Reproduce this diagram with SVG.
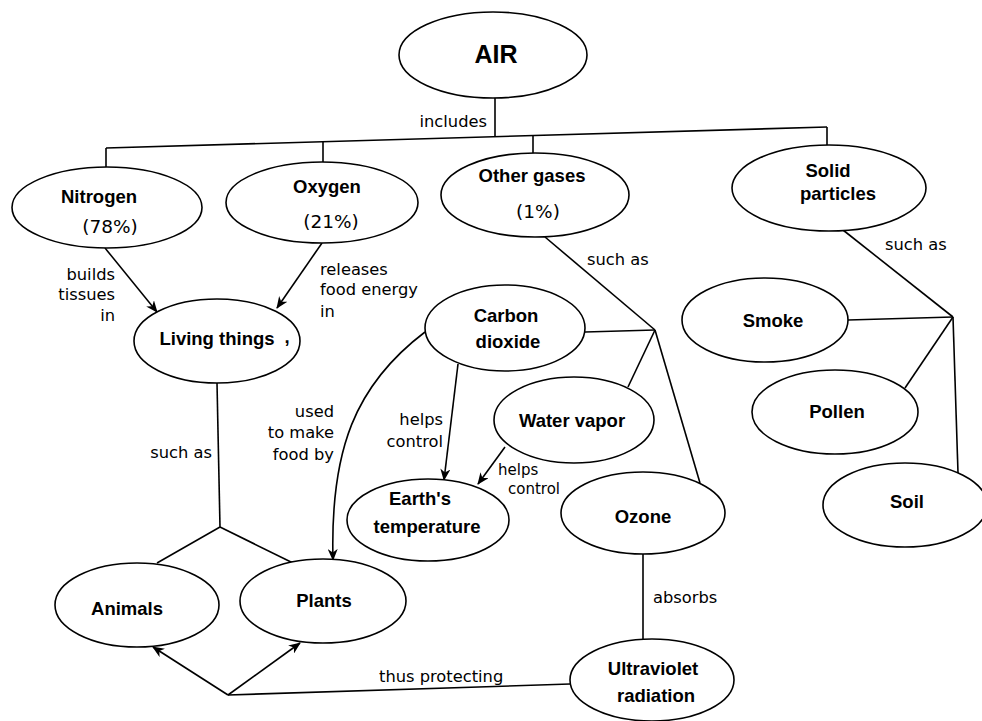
<svg xmlns="http://www.w3.org/2000/svg" width="982" height="721" viewBox="0 0 982 721">
<style>
.bg{fill:#fff}
ellipse{fill:#fff;stroke:#000;stroke-width:1.6}
.n{font-family:"Liberation Sans",Arial,sans-serif;font-weight:bold;font-size:18.5px;text-anchor:middle;fill:#000}
.p{font-family:"DejaVu Sans",sans-serif;font-size:18.5px;text-anchor:middle;fill:#000}
.l{font-family:"DejaVu Sans",sans-serif;font-size:16.3px;fill:#000}
.s{font-size:15px}
.r{text-anchor:end}
#connectors path,#connectors line{fill:none;stroke:#000;stroke-width:1.6}
.a{marker-end:url(#arr)}
</style>
<defs>
<marker id="arr" viewBox="0 0 12 10" refX="11" refY="5" markerWidth="12" markerHeight="10" markerUnits="userSpaceOnUse" orient="auto">
<path d="M0,0 L12,5 L0,10 L3.5,5 z" fill="#000"/>
</marker>
</defs>
<rect class="bg" width="982" height="721"/>
<g id="connectors">
<line x1="495" y1="98" x2="495" y2="136.5"/>
<line x1="106" y1="148" x2="827" y2="127"/>
<line x1="106" y1="148" x2="106" y2="167"/>
<line x1="323" y1="141.7" x2="323" y2="162"/>
<line x1="533" y1="135.6" x2="533" y2="153"/>
<line x1="827" y1="127" x2="827" y2="145"/>
<line class="a" x1="105" y1="248" x2="157" y2="312"/>
<line class="a" x1="322" y1="243" x2="277" y2="308"/>
<line x1="545" y1="237" x2="655" y2="330"/>
<line x1="585" y1="332" x2="655" y2="330"/>
<line x1="655" y1="330" x2="628" y2="387"/>
<line x1="655" y1="330" x2="700" y2="483"/>
<line x1="843" y1="230" x2="953" y2="317"/>
<line x1="848" y1="320" x2="953" y2="317"/>
<line x1="953" y1="317" x2="905" y2="388"/>
<line x1="953" y1="317" x2="958" y2="473"/>
<line class="a" x1="458" y1="364" x2="444" y2="480"/>
<line class="a" x1="505" y1="447" x2="478" y2="484"/>
<path class="a" d="M425,332 C355,385 330,450 333,560"/>
<line x1="217" y1="383" x2="220" y2="527"/>
<line x1="220" y1="527" x2="157" y2="563"/>
<line x1="220" y1="527" x2="293" y2="563"/>
<line x1="643" y1="554" x2="643" y2="639"/>
<line x1="570" y1="684" x2="228" y2="695"/>
<line class="a" x1="228" y1="695" x2="153" y2="647"/>
<line class="a" x1="228" y1="695" x2="300" y2="643"/>
</g>
<g id="labels">
<text class="l r" x="487" y="127">includes</text>
<text class="l r" x="115" y="280">builds</text>
<text class="l r" x="115" y="300">tissues</text>
<text class="l r" x="115" y="321">in</text>
<text class="l" x="320" y="275">releases</text>
<text class="l" x="320" y="295">food energy</text>
<text class="l" x="320" y="317">in</text>
<text class="l" x="587" y="265">such as</text>
<text class="l" x="885" y="250">such as</text>
<text class="l r" x="212" y="458">such as</text>
<text class="l r" x="334" y="417">used</text>
<text class="l r" x="334" y="438">to make</text>
<text class="l r" x="334" y="460">food by</text>
<text class="l r" x="443" y="425">helps</text>
<text class="l r" x="443" y="447">control</text>
<text class="l s" x="498" y="475">helps</text>
<text class="l s" x="508" y="494">control</text>
<text class="l" x="653" y="603">absorbs</text>
<text class="l" x="379" y="682">thus protecting</text>
</g>
<g id="air"><ellipse cx="493" cy="55" rx="94" ry="43"/><text class="n" x="496" y="63" style="font-size:25px">AIR</text></g>
<g id="nitrogen"><ellipse cx="107" cy="207.5" rx="95" ry="40.5"/><text class="n" x="99" y="203">Nitrogen</text><text class="p" x="110" y="233">(78%)</text></g>
<g id="oxygen"><ellipse cx="322" cy="202.5" rx="96" ry="40.5"/><text class="n" x="327" y="193">Oxygen</text><text class="p" x="331" y="228">(21%)</text></g>
<g id="other-gases"><ellipse cx="535" cy="195" rx="94" ry="42"/><text class="n" x="532" y="182">Other gases</text><text class="p" x="538" y="218">(1%)</text></g>
<g id="solid-particles"><ellipse cx="829" cy="188" rx="97" ry="43"/><text class="n" x="828" y="177">Solid</text><text class="n" x="838" y="200">particles</text></g>
<g id="living-things"><ellipse cx="217" cy="341" rx="83" ry="42"/><text class="n" x="217" y="345">Living things</text><text class="n" x="287" y="343">,</text></g>
<g id="carbon-dioxide"><ellipse cx="505" cy="328" rx="80" ry="43"/><text class="n" x="506" y="322">Carbon</text><text class="n" x="508" y="348">dioxide</text></g>
<g id="water-vapor"><ellipse cx="574" cy="420" rx="80" ry="43"/><text class="n" x="572" y="427">Water vapor</text></g>
<g id="earths-temperature"><ellipse cx="428" cy="520" rx="81" ry="41"/><text class="n" x="420" y="505">Earth's</text><text class="n" x="427" y="533">temperature</text></g>
<g id="ozone"><ellipse cx="643" cy="513" rx="82" ry="41"/><text class="n" x="643" y="523">Ozone</text></g>
<g id="ultraviolet-radiation"><ellipse cx="652" cy="680" rx="82" ry="41"/><text class="n" x="653" y="675">Ultraviolet</text><text class="n" x="656" y="702">radiation</text></g>
<g id="smoke"><ellipse cx="765" cy="320" rx="83" ry="42"/><text class="n" x="773" y="327">Smoke</text></g>
<g id="pollen"><ellipse cx="835" cy="412" rx="83" ry="42"/><text class="n" x="837" y="418">Pollen</text></g>
<g id="soil"><ellipse cx="905" cy="505" rx="82" ry="42"/><text class="n" x="907" y="508">Soil</text></g>
<g id="animals"><ellipse cx="137" cy="605" rx="82" ry="42"/><text class="n" x="127" y="615">Animals</text></g>
<g id="plants"><ellipse cx="323" cy="601" rx="83" ry="42"/><text class="n" x="324" y="607">Plants</text></g>
</svg>
